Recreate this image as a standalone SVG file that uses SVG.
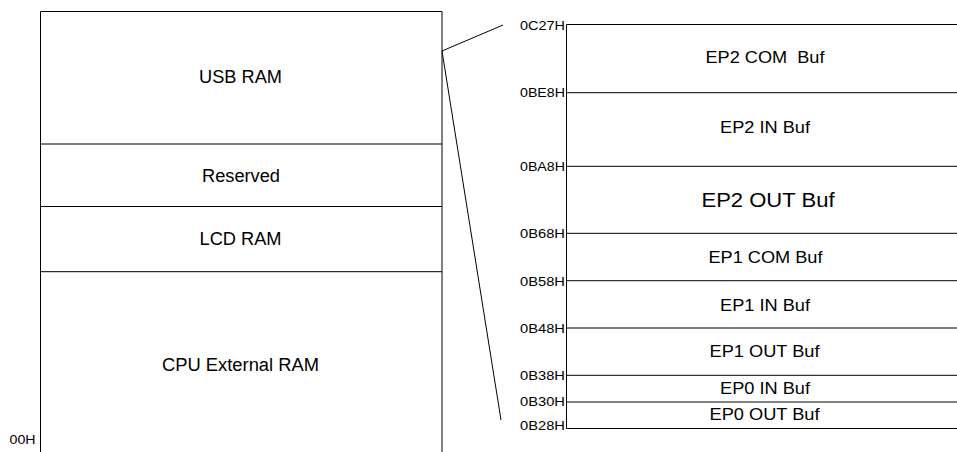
<svg xmlns="http://www.w3.org/2000/svg" width="957" height="452" viewBox="0 0 957 452">
<style>
.ln{stroke:#000;stroke-width:1;fill:none}
.t{font-family:"Liberation Sans",Arial,sans-serif;fill:#000;text-anchor:middle}
.big{font-size:18px}
.mid{font-size:16px}
.ep2out{font-size:20px}
.adr{font-family:"Liberation Sans",Arial,sans-serif;fill:#000;font-size:12.5px;text-anchor:end}
</style>
<rect width="957" height="452" fill="#fff"/>
<g id="left-map">
<path class="ln" d="M40.5,453 V11.5 H442 V453"/>
<g id="usb-ram"><text class="t big" x="240.5" y="83.3" textLength="83" lengthAdjust="spacingAndGlyphs">USB RAM</text></g>
<g id="reserved"><path class="ln" d="M40.5,144 H442"/><text class="t big" x="241" y="181.7" textLength="78" lengthAdjust="spacingAndGlyphs">Reserved</text></g>
<g id="lcd-ram"><path class="ln" d="M40.5,206.5 H442"/><text class="t big" x="240.5" y="245" textLength="82" lengthAdjust="spacingAndGlyphs">LCD RAM</text></g>
<g id="cpu-ext-ram"><path class="ln" d="M40.5,271.7 H442"/><text class="t big" x="240.5" y="370.7" textLength="157" lengthAdjust="spacingAndGlyphs">CPU External RAM</text></g>
<g id="addr-00h"><text class="adr" x="35.5" y="444" textLength="26" lengthAdjust="spacingAndGlyphs">00H</text></g>
</g>
<g id="connectors">
<path class="ln" d="M442,51 L503,25"/>
<path class="ln" d="M442,51 L501,420"/>
</g>
<g id="right-map">
<path class="ln" d="M958,24.5 H566.5 V428.5 H958"/>
<g id="ep2-com"><text class="adr" x="565" y="30" textLength="45" lengthAdjust="spacingAndGlyphs">0C27H</text><text class="t mid" x="765" y="62.7" textLength="119" lengthAdjust="spacingAndGlyphs" style="white-space:pre">EP2 COM  Buf</text></g>
<g id="ep2-in"><path class="ln" d="M566.5,92.7 H958"/><text class="adr" x="565" y="96.5" textLength="45" lengthAdjust="spacingAndGlyphs">0BE8H</text><text class="t mid" x="765" y="133.3" textLength="90" lengthAdjust="spacingAndGlyphs">EP2 IN Buf</text></g>
<g id="ep2-out"><path class="ln" d="M566.5,166.3 H958"/><text class="adr" x="565" y="170.5" textLength="45" lengthAdjust="spacingAndGlyphs">0BA8H</text><text class="t ep2out" x="768" y="206.7" textLength="133" lengthAdjust="spacingAndGlyphs">EP2 OUT Buf</text></g>
<g id="ep1-com"><path class="ln" d="M566.5,233.3 H958"/><text class="adr" x="565" y="238" textLength="45" lengthAdjust="spacingAndGlyphs">0B68H</text><text class="t mid" x="765.5" y="263.3" textLength="114" lengthAdjust="spacingAndGlyphs">EP1 COM Buf</text></g>
<g id="ep1-in"><path class="ln" d="M566.5,280.7 H958"/><text class="adr" x="565" y="286" textLength="45" lengthAdjust="spacingAndGlyphs">0B58H</text><text class="t mid" x="765" y="310.7" textLength="90" lengthAdjust="spacingAndGlyphs">EP1 IN Buf</text></g>
<g id="ep1-out"><path class="ln" d="M566.5,328 H958"/><text class="adr" x="565" y="333" textLength="45" lengthAdjust="spacingAndGlyphs">0B48H</text><text class="t mid" x="764.5" y="356.7" textLength="110" lengthAdjust="spacingAndGlyphs">EP1 OUT Buf</text></g>
<g id="ep0-in"><path class="ln" d="M566.5,375.3 H958"/><text class="adr" x="565" y="380" textLength="45" lengthAdjust="spacingAndGlyphs">0B38H</text><text class="t mid" x="765" y="394" textLength="90" lengthAdjust="spacingAndGlyphs">EP0 IN Buf</text></g>
<g id="ep0-out"><path class="ln" d="M566.5,402 H958"/><text class="adr" x="565" y="406" textLength="45" lengthAdjust="spacingAndGlyphs">0B30H</text><text class="t mid" x="764.5" y="420" textLength="110" lengthAdjust="spacingAndGlyphs">EP0 OUT Buf</text></g>
<g id="addr-0b28h"><text class="adr" x="565" y="430" textLength="45" lengthAdjust="spacingAndGlyphs">0B28H</text></g>
</g>
</svg>
